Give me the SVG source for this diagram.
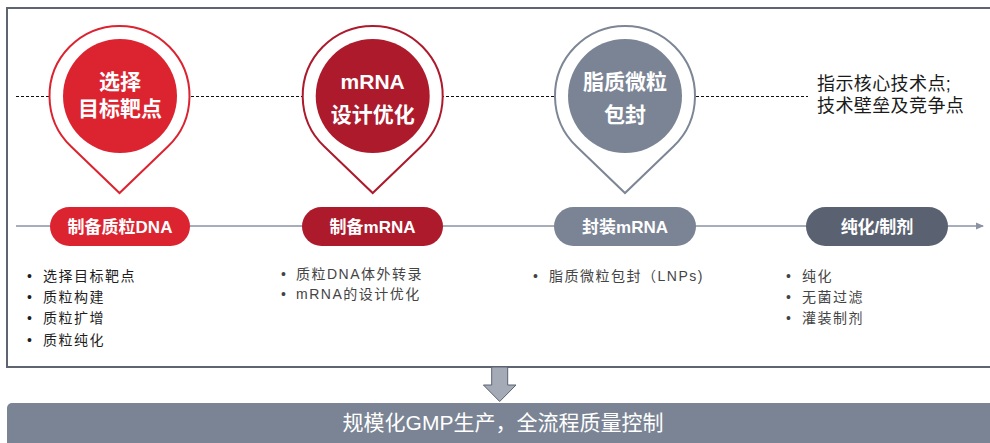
<svg xmlns="http://www.w3.org/2000/svg" width="990" height="443" viewBox="0 0 990 443">
<style>
.cjk{font-family:"Liberation Sans","Noto Sans CJK SC",sans-serif}
.pinT{font-family:"Liberation Sans","Noto Sans CJK SC",sans-serif;font-weight:bold;font-size:21px;fill:#fff;text-anchor:middle}
.pillT{font-family:"Liberation Sans","Noto Sans CJK SC",sans-serif;font-weight:bold;font-size:17px;fill:#fff;text-anchor:middle}
.bul{font-family:"Liberation Sans","Noto Sans CJK SC",sans-serif;font-size:14px;letter-spacing:1.5px}
.pin{fill:#fff;stroke-width:2}
</style>
<defs>
<marker id="ah" viewBox="0 0 8 8" refX="7" refY="4" markerWidth="8" markerHeight="8" markerUnits="userSpaceOnUse" orient="auto">
<path d="M0,0.5 L8,4 L0,7.5 Z" fill="#8a93a2"/>
</marker>
</defs>
<rect x="0" y="0" width="990" height="443" fill="#fff"/>
<rect id="frame" x="7" y="8" width="990" height="359" fill="#fff" stroke="#5f6570" stroke-width="2"/>

<g id="connectors">
<line x1="16" y1="96.5" x2="808" y2="96.5" stroke="#111" stroke-width="1" stroke-dasharray="3 2"/>
<line x1="16" y1="226" x2="983" y2="226" stroke="#8a93a2" stroke-width="1.6" marker-end="url(#ah)"/>
</g>

<g id="pin1">
<path class="pin" stroke="#dc2430" d="M71.1,146.5 A70,70 0 1 1 167.9,146.5 L119.5,193 Z"/>
<circle cx="120" cy="96" r="57" fill="#dc2430"/>
<text class="pinT" x="120" y="89">选择</text>
<text class="pinT" x="120" y="116">目标靶点</text>
</g>
<g id="pin2">
<path class="pin" stroke="#ad1a2c" d="M324.3,146.5 A70,70 0 1 1 421.1,146.5 L372.7,193 Z"/>
<circle cx="372.7" cy="96" r="57" fill="#ad1a2c"/>
<text class="pinT" x="372.7" y="89">mRNA</text>
<text class="pinT" x="372.7" y="122">设计优化</text>
</g>
<g id="pin3">
<path class="pin" stroke="#7d8695" d="M576.6,146.5 A70,70 0 1 1 673.4,146.5 L625,193 Z"/>
<circle cx="625" cy="96" r="57" fill="#7a8494"/>
<text class="pinT" x="625" y="89">脂质微粒</text>
<text class="pinT" x="625" y="122">包封</text>
</g>

<g id="legend">
<text class="cjk" x="817" y="90" font-size="18" letter-spacing="0.4" fill="#1a1a1a">指示核心技术点;</text>
<text class="cjk" x="817" y="112" font-size="18" letter-spacing="0.4" fill="#1a1a1a">技术壁垒及竞争点</text>
</g>

<g id="step1">
<rect x="50" y="207" width="140" height="39" rx="19.5" fill="#dc2430"/>
<text class="pillT" x="120" y="232.5">制备质粒DNA</text>
</g>
<g id="step2">
<rect x="302" y="207" width="141" height="39" rx="19.5" fill="#ad1a2c"/>
<text class="pillT" x="372.5" y="232.5">制备mRNA</text>
</g>
<g id="step3">
<rect x="554" y="207" width="142" height="39" rx="19.5" fill="#7a8494"/>
<text class="pillT" x="625" y="232.5">封装mRNA</text>
</g>
<g id="step4">
<rect x="806" y="207" width="142" height="39" rx="19.5" fill="#5a6271"/>
<text class="pillT" x="877" y="232.5">纯化/制剂</text>
</g>

<g id="list1" class="bul" fill="#1e1e1e">
<text x="27" y="281">•</text><text x="43" y="281">选择目标靶点</text>
<text x="27" y="302">•</text><text x="43" y="302">质粒构建</text>
<text x="27" y="323">•</text><text x="43" y="323">质粒扩增</text>
<text x="27" y="345">•</text><text x="43" y="345">质粒纯化</text>
</g>
<g id="list2" class="bul" fill="#444">
<text x="281" y="279">•</text><text x="296" y="279">质粒DNA体外转录</text>
<text x="281" y="299">•</text><text x="296" y="299">mRNA的设计优化</text>
</g>
<g id="list3" class="bul" fill="#444">
<text x="533" y="281">•</text><text x="549" y="281">脂质微粒包封（LNPs)</text>
</g>
<g id="list4" class="bul" fill="#444">
<text x="786" y="281">•</text><text x="802" y="281">纯化</text>
<text x="786" y="302">•</text><text x="802" y="302">无菌过滤</text>
<text x="786" y="323">•</text><text x="802" y="323">灌装制剂</text>
</g>

<g id="downArrow">
<path d="M491.7,367 L507.7,367 L507.7,385 L516,385 L499.7,401.5 L483.4,385 L491.7,385 Z" fill="#a5abb6" stroke="#5a6270" stroke-width="1"/>
</g>

<g id="gmpBar">
<rect x="7" y="403" width="990" height="50" rx="5" fill="#7a8494"/>
<text class="cjk" x="503" y="430" font-size="21" fill="#fff" text-anchor="middle">规模化GMP生产，全流程质量控制</text>
</g>
</svg>
